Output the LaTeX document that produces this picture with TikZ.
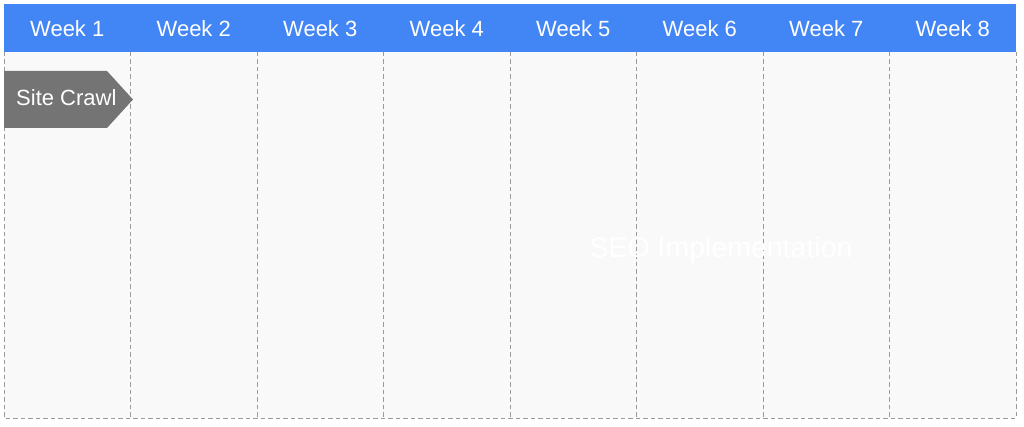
\documentclass[tikz,border=0pt]{standalone}
\usepackage{fontspec}
\setmainfont{Liberation Sans}

\definecolor{weekblue}{HTML}{4285F4}
\definecolor{crawlgray}{HTML}{747474}
\definecolor{gridbg}{HTML}{F9F9F9}
\definecolor{gridline}{HTML}{9A9A9A}

\begin{document}
\begin{tikzpicture}[x=1pt,y=-1pt,
    weeklabel/.style={text=white, font=\fontsize{22}{26}\selectfont},
    gridrule/.style={draw=gridline, dash pattern=on 4.5pt off 3pt, line width=.9pt}]
\useasboundingbox (0,0) rectangle (1024,427);

% Size of the grid: eight week columns
\def\colw{126.5}
\def\gleft{4}
\def\ghead{4}
\def\gbody{52}
\def\gfoot{418}

% Header bar and the body of the grid
\fill[weekblue] (\gleft,\ghead) rectangle (1016,\gbody);
\fill[gridbg] (\gleft,\gbody) rectangle (1016,\gfoot);
\draw[gridrule] (\gleft,\gbody) -- (\gleft,\gfoot) -- (1016,\gfoot) -- (1016,\gbody);

% Column rules and week labels
\foreach \i in {1,...,7}
  \draw[gridrule] ({\gleft+\i*\colw},\gbody) -- ({\gleft+\i*\colw},\gfoot);
\foreach \i in {1,...,8}
  \node[weeklabel] (week\i) at ({\gleft+(\i-.5)*\colw},29) {Week \i};

% The Site Crawl task arrow
\coordinate (CrawlA) at (\gleft,71);
\coordinate (CrawlB) at (107,71);
\coordinate (CrawlTip) at (133,99.5);
\coordinate (CrawlC) at (107,128);
\coordinate (CrawlD) at (\gleft,128);
\fill[crawlgray] (CrawlA) -- (CrawlB) -- (CrawlTip) -- (CrawlC) -- (CrawlD) -- cycle;
\node[weeklabel, anchor=west, inner sep=0pt] (crawl) at (16,98) {Site Crawl};

% Label of the second phase (white on the grid)
\node[text=white, font=\fontsize{28.5}{32}\selectfont] (seo) at (721,250) {SEO Implementation};
\end{tikzpicture}
\end{document}
